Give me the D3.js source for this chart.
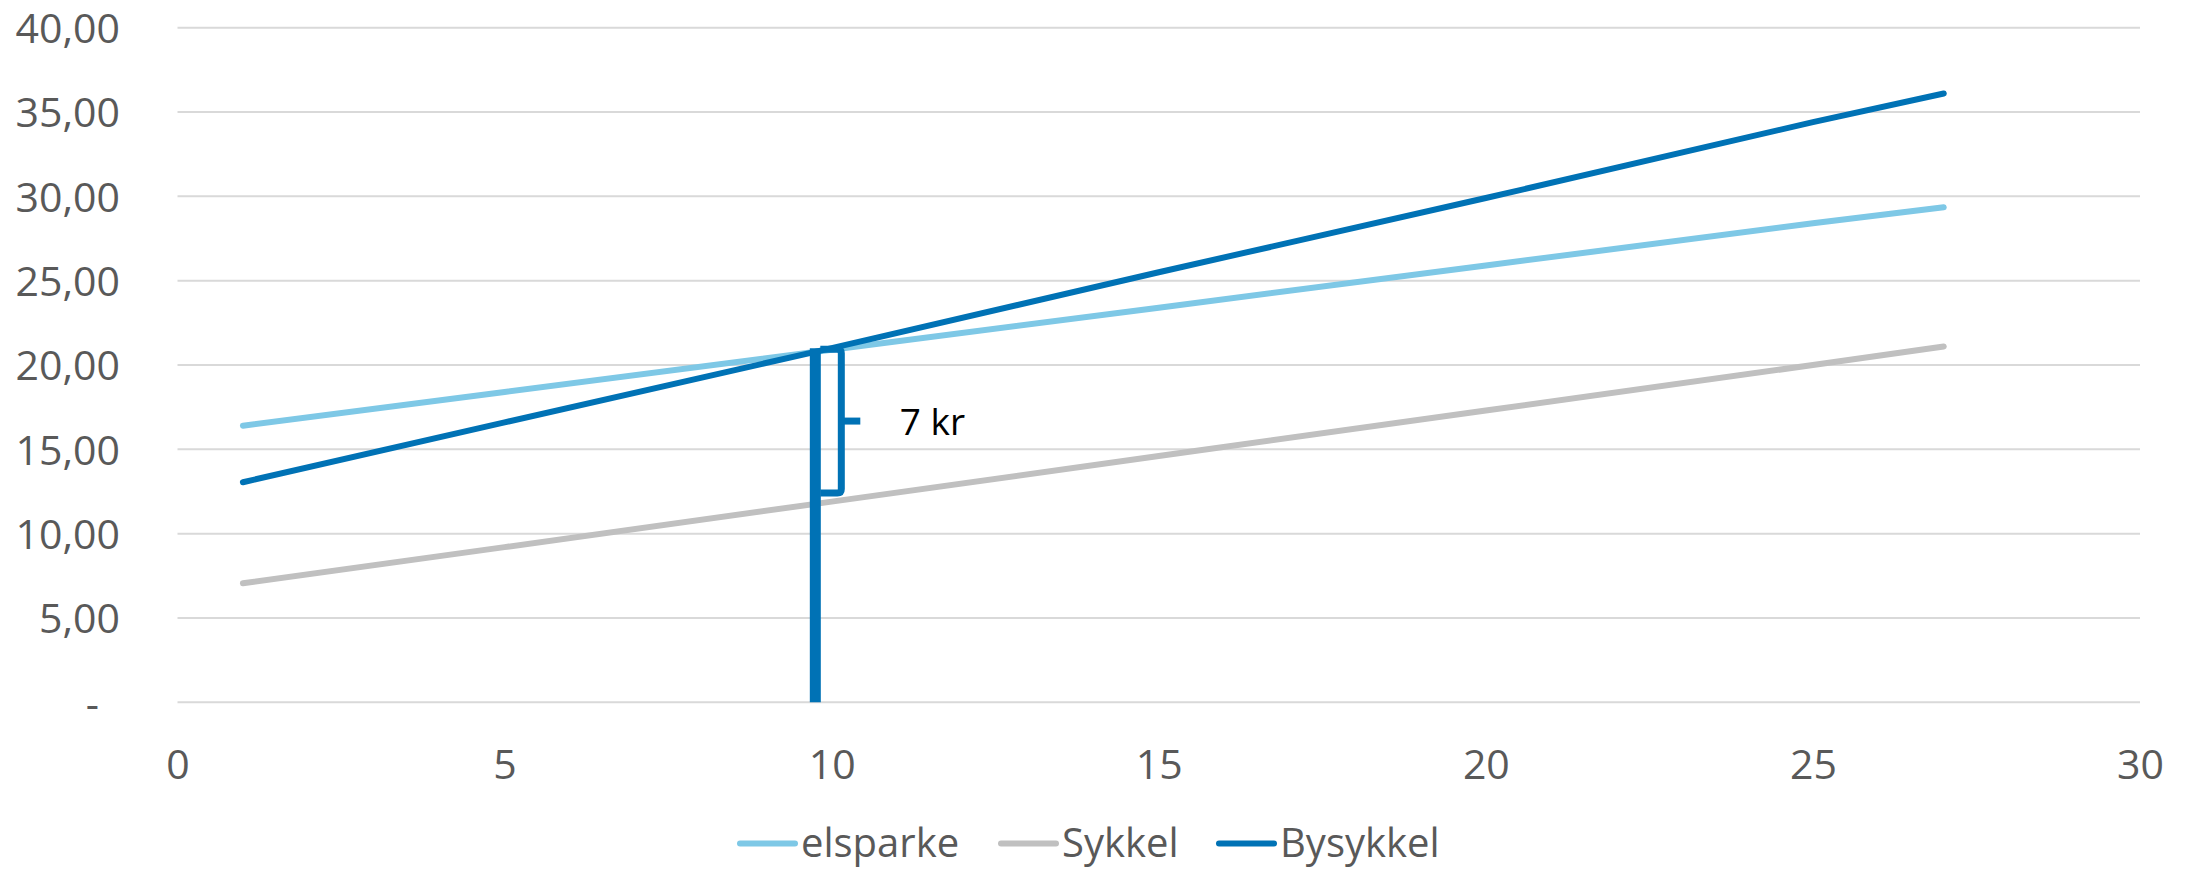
<!DOCTYPE html>
<html><head><meta charset="utf-8">
<script src="https://cdn.jsdelivr.net/npm/d3@7"></script>
<style>
html,body{margin:0;padding:0;background:#fff;}
text{font-family:"Open Sans",sans-serif;}
</style></head>
<body><svg id="c" width="2190" height="869"></svg>
<script>
const xValues = [1, 5, 10, 15, 20, 25, 27];
const elsparke = [16.4, 18.4, 20.9, 23.4, 25.9, 28.4, 29.35];
const sykkel = [7.06, 9.2, 11.9, 14.6, 17.3, 20.0, 21.1];
const bysykkel = [13.05, 16.6, 21.0, 25.5, 29.9, 34.4, 36.1];
const seriesNames = ["elsparke", "Sykkel", "Bysykkel"];
const xTicks = [0, 5, 10, 15, 20, 25, 30];
const yTicks = [0, 5, 10, 15, 20, 25, 30, 35, 40];
// annotation: vertical bar at x, from 0 to top; brace between the two values
const markerX = [9.75];
const markerTop = [21.0];
const braceValues = [12.35, 21.0];
const annotationText = ["7 kr"];

const colors = {"elsparke":"#7EC8E6","Sykkel":"#C0C0C0","Bysykkel":"#0072B5"};
const svg = d3.select("#c");
const x = d3.scaleLinear().domain([0,30]).range([177.5,2140]);
const y = d3.scaleLinear().domain([0,40]).range([702.3,27.7]);

// gridlines
svg.append("g").selectAll("line").data(yTicks).join("line")
  .attr("x1", x(0)).attr("x2", x(30))
  .attr("y1", d=>y(d)).attr("y2", d=>y(d))
  .attr("stroke","#D9D9D9").attr("stroke-width",2);

// y axis labels
const fmt = d => d===0 ? "-" : d3.format(".2f")(d).replace(".", ",");
const yAxis = svg.append("g").attr("transform","translate(120,0)")
  .call(d3.axisLeft(y).tickValues(yTicks).tickFormat(fmt).tickSize(0).tickPadding(0));
yAxis.select(".domain").remove();
yAxis.selectAll("text").attr("font-size",41).attr("fill","#595959")
  .attr("font-family","Open Sans").attr("dy","0.36em");
yAxis.selectAll(".tick").filter(d=>d===0).select("text").attr("x",-21);

// x axis labels
const xAxis = svg.append("g").attr("transform","translate(0,749)")
  .call(d3.axisBottom(x).tickValues(xTicks).tickFormat(d3.format("d")).tickSize(0).tickPadding(0));
xAxis.select(".domain").remove();
xAxis.selectAll("text").attr("font-size",41).attr("fill","#595959")
  .attr("font-family","Open Sans").attr("dy","0.72em");

// series
const seriesData = [elsparke, sykkel, bysykkel];
const line = d3.line().x((d,i)=>x(xValues[i])).y(d=>y(d));
seriesNames.forEach((name,k)=>{
  svg.append("path").datum(seriesData[k]).attr("d",line)
    .attr("fill","none").attr("stroke",colors[name]).attr("stroke-width",6)
    .attr("stroke-linecap","round").attr("stroke-linejoin","round");
});

// vertical marker bar
svg.append("line")
  .attr("x1", x(markerX[0])).attr("x2", x(markerX[0]))
  .attr("y1", y(0)).attr("y2", y(markerTop[0]))
  .attr("stroke","#0072B5").attr("stroke-width",11);

// brace
const bx0 = x(markerX[0]) + 5, bx1 = x(markerX[0]) + 26, btip = x(markerX[0]) + 45;
const by0 = y(braceValues[1]), by1 = y(braceValues[0]), bym = (by0+by1)/2;
svg.append("path")
  .attr("d", `M${bx0},${by0+1} L${bx1-4},${by0+1} Q${bx1},${by0+1} ${bx1},${by0+5} L${bx1},${by1-5} Q${bx1},${by1-1} ${bx1-4},${by1-1} L${bx0},${by1-1}`)
  .attr("fill","none").attr("stroke","#0072B5").attr("stroke-width",7);
svg.append("line").attr("x1",bx1).attr("x2",btip).attr("y1",bym).attr("y2",bym)
  .attr("stroke","#0072B5").attr("stroke-width",7);

svg.append("text").attr("x", x(11.04)).attr("y", y(15.85))
  .attr("font-size",37).attr("fill","#000").text(annotationText[0]);

// legend
const legendX = [740, 1001, 1219];
const lg = svg.append("g");
seriesNames.forEach((name,k)=>{
  lg.append("line").attr("x1",legendX[k]).attr("x2",legendX[k]+55)
    .attr("y1",843.5).attr("y2",843.5)
    .attr("stroke",colors[name]).attr("stroke-width",6).attr("stroke-linecap","round");
  lg.append("text").attr("x",legendX[k]+61).attr("y",856.5)
    .attr("font-size",40).attr("fill","#595959").text(name);
});
</script></body></html>
